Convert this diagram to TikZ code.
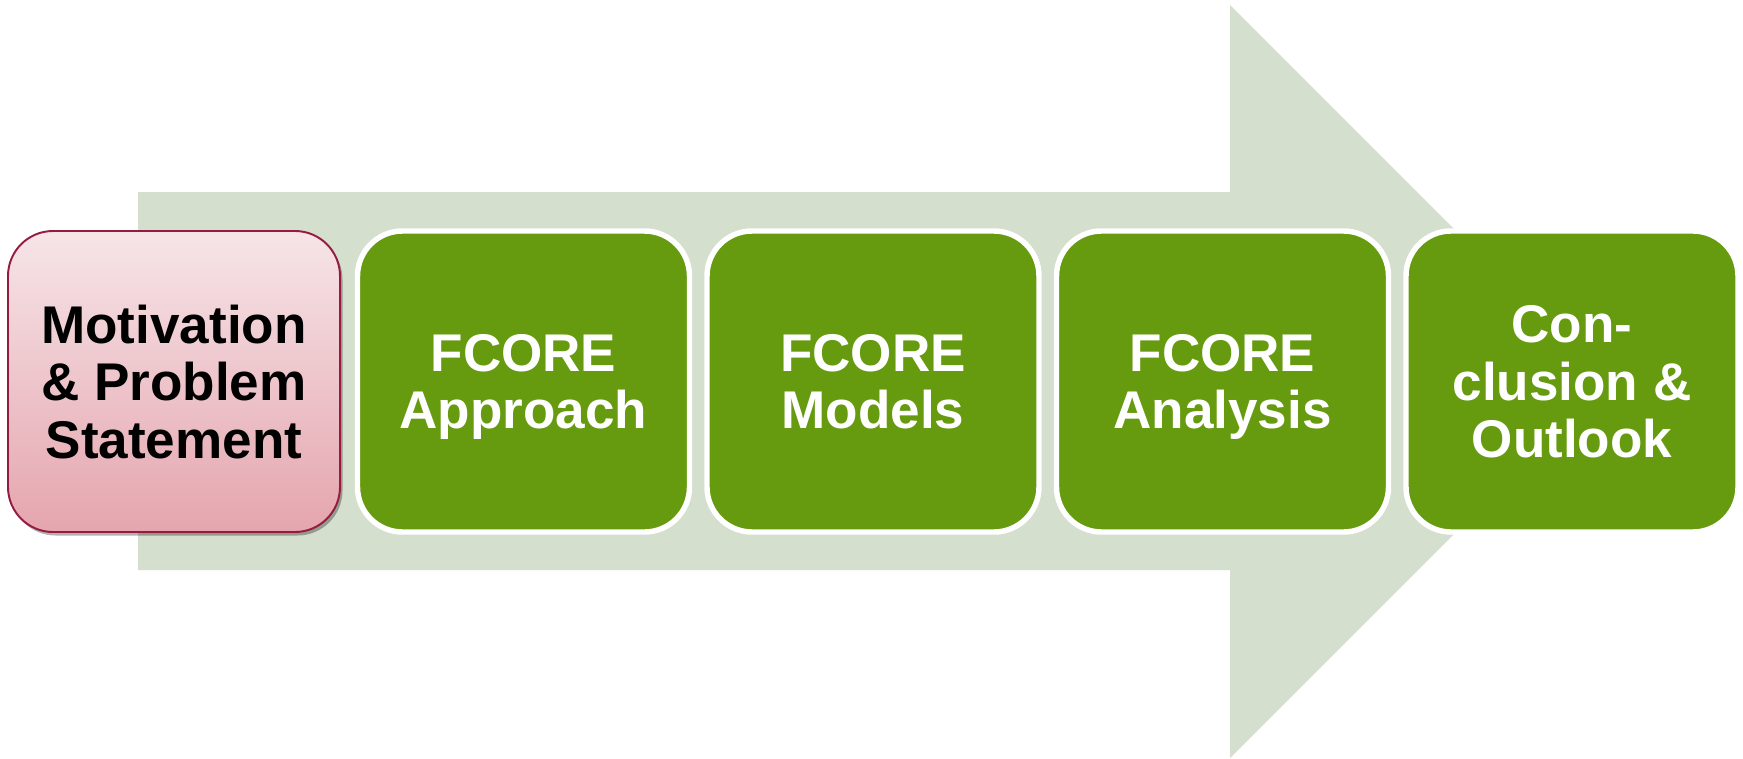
\documentclass[tikz,border=0pt]{standalone}
\usepackage{fontspec}
\setmainfont{Liberation Sans}
\usepackage{tikz}
\usetikzlibrary{positioning, shadows}

\definecolor{arrowgreen}{HTML}{D4DFCD}
\definecolor{stagegreen}{HTML}{669A0F}
\definecolor{pinktop}{HTML}{F6E5E8}
\definecolor{pinkbottom}{HTML}{E5A5AE}
\definecolor{pinkborder}{HTML}{951B40}

\tikzset{
    stage/.style={rounded corners=0.9cm, minimum width=6.64cm, minimum height=6.02cm,
        inner sep=0pt, outer sep=0pt, align=center, text depth=0pt,
        font=\fontsize{30.2}{32.8}\selectfont\bfseries},
    todo/.style={stage, draw=white, line width=3.1pt, fill=stagegreen, text=white},
    current/.style={stage, draw=pinkborder, line width=1.1pt, top color=pinktop, bottom color=pinkbottom, text=black,
        drop shadow={shadow xshift=0.05cm, shadow yshift=-0.07cm, opacity=0.3, fill=black}}
}

\begin{document}
\begin{tikzpicture}[node distance=0.35cm]
    \useasboundingbox (0,0) rectangle (34.86,-15.18);

    % Big arrow behind the stages
    \fill[arrowgreen] (2.76,-3.84) -- (24.6,-3.84) -- (24.6,-0.10) -- (32.13,-7.63)
        -- (24.6,-15.16) -- (24.6,-11.40) -- (2.76,-11.40) -- cycle;

    % Stages
    \node[current] (motiv) at (3.48,-7.63) {Motivation\\\& Problem\\Statement};
    \node[todo, right=of motiv] (approach) {FCORE\\Approach};
    \node[todo, right=of approach] (models) {FCORE\\Models};
    \node[todo, right=of models] (analysis) {FCORE\\Analysis};
    \node[todo, right=of analysis] (concl) {Con-\\clusion \&\\Outlook};
\end{tikzpicture}
\end{document}
